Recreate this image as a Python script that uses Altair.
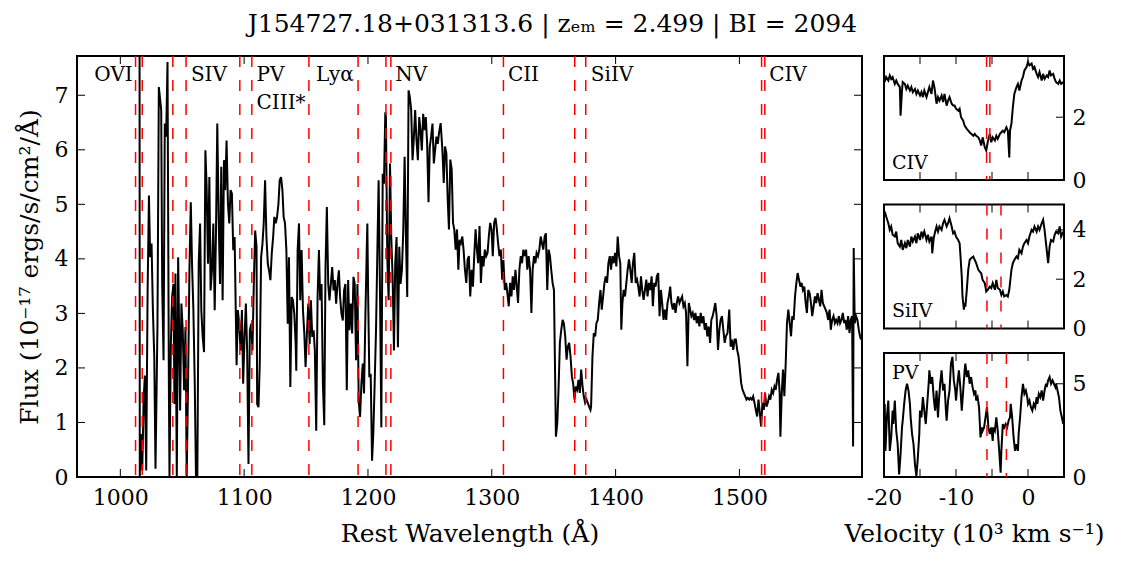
import altair as alt
import pandas as pd

FONT = "DejaVu Serif"

# ---------------- main spectrum (rest wavelength, flux) ----------------
WAVE = [1015.5, 1015.7, 1016.6, 1017.7, 1018.8, 1019.8, 1020.9, 1022.0, 1023.1, 1024.1,
        1025.2, 1026.3, 1027.4, 1028.4, 1030.0, 1031.1, 1032.2, 1033.0, 1033.8, 1034.9,
        1035.9, 1037.0, 1038.1, 1039.2, 1039.7, 1040.8, 1041.8, 1042.9, 1043.7, 1044.5,
        1045.6, 1046.7, 1047.7, 1048.3, 1049.3, 1050.4, 1051.5, 1052.6, 1053.6, 1054.7,
        1055.8, 1056.9, 1057.9, 1059.0, 1060.1, 1061.1, 1062.2, 1063.3, 1064.4, 1065.4,
        1066.5, 1067.6, 1068.1, 1068.7, 1069.7, 1070.8, 1071.9, 1072.9, 1074.0, 1075.1,
        1076.2, 1077.2, 1078.3, 1079.4, 1080.5, 1081.5, 1082.6, 1083.7, 1084.7, 1085.8,
        1086.9, 1088.0, 1089.0, 1090.1, 1091.2, 1092.3, 1093.3, 1093.9, 1094.9, 1096.0,
        1097.1, 1098.2, 1099.2, 1100.3, 1101.4, 1102.4, 1103.5, 1104.6, 1105.7, 1106.7,
        1107.8, 1108.9, 1110.0, 1110.5, 1111.6, 1112.6, 1113.7, 1114.8, 1115.8, 1116.9,
        1118.0, 1119.1, 1120.1, 1121.2, 1122.3, 1123.4, 1124.4, 1125.5, 1126.6, 1127.7,
        1128.7, 1129.8, 1130.9, 1131.9, 1133.0, 1134.1, 1135.2, 1136.2, 1137.3, 1138.4,
        1139.4, 1140.5, 1141.6, 1142.1, 1143.2, 1144.3, 1145.3, 1146.4, 1147.5, 1148.6,
        1149.6, 1150.7, 1151.8, 1152.9, 1153.9, 1155.0, 1156.1, 1157.1, 1158.2, 1159.3,
        1160.4, 1161.4, 1162.5, 1163.6, 1164.7, 1165.7, 1166.8, 1167.9, 1168.9, 1170.0,
        1171.1, 1172.2, 1173.2, 1174.3, 1175.4, 1176.5, 1177.5, 1178.6, 1179.7, 1180.7,
        1181.8, 1182.9, 1184.0, 1185.0, 1186.1, 1187.2, 1188.3, 1189.3, 1190.4, 1191.5,
        1192.5, 1193.6, 1194.7, 1195.8, 1196.8, 1197.9, 1199.0, 1199.5, 1200.1, 1201.1,
        1202.2, 1203.3, 1204.3, 1205.4, 1206.5, 1207.6, 1208.6, 1209.7, 1210.8, 1211.9,
        1212.9, 1214.0, 1214.5, 1215.6, 1216.7, 1217.8, 1218.8, 1219.9, 1221.0, 1222.0,
        1223.1, 1224.2, 1225.3, 1226.3, 1227.4, 1228.5, 1229.6, 1230.6, 1231.7, 1232.8,
        1233.8, 1234.9, 1236.0, 1237.1, 1238.1, 1239.2, 1240.3, 1241.4, 1242.4, 1243.5,
        1244.6, 1245.6, 1246.7, 1247.8, 1248.9, 1249.9, 1251.0, 1252.1, 1253.2, 1254.2,
        1255.3, 1256.4, 1257.4, 1258.7, 1260.1, 1261.2, 1262.2, 1263.3, 1264.4, 1265.4,
        1266.5, 1267.6, 1268.7, 1269.7, 1270.8, 1271.9, 1273.0, 1274.0, 1275.1, 1276.2,
        1277.2, 1278.3, 1279.4, 1280.5, 1281.5, 1282.6, 1283.7, 1284.8, 1285.8, 1286.9,
        1288.0, 1289.0, 1290.1, 1291.2, 1292.3, 1293.3, 1294.4, 1295.5, 1296.6, 1297.6,
        1298.7, 1299.8, 1300.8, 1301.9, 1303.0, 1304.1, 1305.1, 1306.2, 1307.3, 1308.4,
        1309.4, 1310.5, 1311.6, 1312.6, 1313.7, 1314.8, 1315.9, 1316.9, 1318.0, 1319.1,
        1320.2, 1321.2, 1322.3, 1323.4, 1324.4, 1325.5, 1326.6, 1327.7, 1328.7, 1329.8,
        1330.9, 1332.0, 1333.0, 1334.1, 1335.2, 1336.2, 1337.3, 1338.4, 1339.5, 1340.5,
        1341.6, 1342.7, 1343.7, 1344.8, 1345.9, 1347.0, 1348.0, 1349.1, 1350.2, 1351.3,
        1351.8, 1352.9, 1353.9, 1355.0, 1356.1, 1357.2, 1358.2, 1359.3, 1360.4, 1361.4,
        1362.5, 1363.6, 1364.7, 1365.7, 1366.8, 1367.9, 1369.0, 1370.0, 1371.1, 1372.2,
        1373.3, 1374.3, 1375.4, 1376.5, 1377.5, 1378.6, 1379.7, 1380.2, 1381.3, 1382.4,
        1383.5, 1384.5, 1385.6, 1386.7, 1387.8, 1388.8, 1389.9, 1391.0, 1392.0, 1393.1,
        1394.2, 1395.3, 1396.3, 1397.4, 1398.5, 1399.6, 1400.6, 1401.7, 1402.8, 1403.8,
        1404.6, 1405.5, 1406.5, 1407.6, 1408.7, 1409.7, 1410.8, 1411.9, 1413.0, 1414.0,
        1415.1, 1416.2, 1417.3, 1418.3, 1419.4, 1420.5, 1421.5, 1422.6, 1423.7, 1424.8,
        1425.8, 1426.9, 1428.0, 1429.1, 1430.1, 1431.2, 1432.3, 1433.3, 1434.4, 1435.5,
        1436.6, 1437.6, 1438.7, 1439.8, 1440.9, 1441.9, 1443.0, 1444.1, 1445.1, 1446.2,
        1447.3, 1448.4, 1449.4, 1450.5, 1451.6, 1452.6, 1453.7, 1454.8, 1455.9, 1456.9,
        1458.0, 1459.1, 1460.2, 1461.2, 1462.3, 1463.4, 1464.5, 1465.5, 1466.6, 1467.7,
        1468.7, 1469.8, 1470.9, 1472.0, 1473.0, 1474.1, 1475.2, 1476.3, 1477.3, 1478.4,
        1479.5, 1480.5, 1481.6, 1482.7, 1483.8, 1484.8, 1485.9, 1487.0, 1488.1, 1489.1,
        1490.4, 1491.8, 1492.9, 1493.9, 1495.0, 1496.1, 1497.1, 1498.2, 1499.3, 1500.4,
        1501.4, 1502.5, 1503.6, 1504.7, 1505.7, 1506.8, 1507.9, 1508.9, 1510.0, 1511.1,
        1512.2, 1513.2, 1514.3, 1515.4, 1516.5, 1517.5, 1518.6, 1519.7, 1520.7, 1521.8,
        1522.9, 1524.0, 1525.0, 1526.1, 1527.2, 1528.3, 1529.3, 1530.4, 1531.5, 1532.5,
        1533.1, 1534.2, 1535.2, 1536.3, 1537.4, 1538.4, 1539.5, 1540.6, 1541.7, 1542.7,
        1543.8, 1544.9, 1546.0, 1547.0, 1548.1, 1549.2, 1550.2, 1551.3, 1552.4, 1553.5,
        1554.5, 1555.6, 1556.7, 1557.8, 1558.8, 1559.9, 1561.0, 1562.0, 1563.1, 1564.2,
        1565.3, 1566.3, 1567.4, 1568.5, 1569.6, 1570.6, 1571.7, 1572.8, 1573.8, 1574.9,
        1576.0, 1577.1, 1578.1, 1579.2, 1580.3, 1581.3, 1582.4, 1583.5, 1584.6, 1585.6,
        1586.7, 1587.8, 1588.9, 1589.9, 1591.0, 1591.8, 1592.3, 1593.1, 1594.2, 1595.3,
        1596.4, 1597.4, 1598.2]
FLUX = [9.00, 0.00, 0.79, 0.12, 1.40, 1.86, 0.12, 3.36, 5.16, 4.03,
        4.28, 3.06, 2.20, 0.15, 2.81, 7.15, 6.91, 6.73, 3.54, 2.14,
        6.48, 6.24, 7.61, 1.71, 0.00, 2.44, 3.30, 3.54, 1.34, 3.73,
        0.00, 4.03, 2.32, 1.22, 3.18, 2.69, 1.59, 2.75, 0.00, 1.71,
        3.79, 5.04, 3.91, 3.06, 1.71, 0.00, 0.00, 3.91, 4.65, 3.06,
        2.57, 2.29, 4.03, 5.99, 5.32, 3.91, 5.50, 3.42, 3.79, 4.65,
        3.06, 4.40, 6.48, 4.77, 3.54, 5.69, 3.24, 5.81, 5.26, 6.17,
        5.01, 4.65, 5.26, 5.20, 4.16, 4.40, 2.93, 2.05, 3.06, 2.81,
        2.32, 3.06, 1.71, 2.57, 3.18, 2.32, 0.24, 2.69, 2.81, 2.32,
        3.54, 4.52, 4.22, 1.34, 1.28, 2.08, 4.03, 4.28, 4.65, 5.44,
        4.40, 3.91, 3.79, 3.61, 4.10, 4.40, 4.77, 4.65, 4.77, 5.01,
        5.44, 5.50, 5.26, 4.77, 4.65, 4.16, 2.81, 4.03, 1.65, 3.30,
        3.24, 2.99, 2.44, 1.95, 4.16, 4.65, 3.24, 4.16, 3.06, 2.63,
        2.02, 2.63, 3.18, 2.44, 3.24, 2.57, 2.69, 2.32, 0.85, 3.30,
        4.16, 3.24, 3.54, 1.71, 0.95, 3.85, 4.95, 3.54, 3.24, 3.54,
        3.85, 3.42, 3.61, 3.18, 3.54, 3.79, 3.30, 2.99, 2.87, 3.42,
        3.54, 1.59, 3.61, 2.69, 3.18, 2.63, 3.67, 3.54, 2.14, 3.54,
        1.40, 1.10, 1.71, 2.08, 1.53, 2.93, 4.16, 4.65, 3.42, 1.83,
        1.89, 0.30, 0.79, 1.71, 2.69, 4.16, 5.44, 3.42, 0.91, 5.56,
        5.38, 6.69, 6.60, 4.03, 3.24, 5.75, 4.40, 3.67, 2.32, 3.91,
        4.40, 2.38, 4.22, 3.54, 3.79, 4.52, 5.87, 4.46, 3.30, 7.09,
        6.97, 6.73, 5.81, 6.24, 6.73, 6.17, 5.81, 6.60, 6.36, 5.99,
        6.66, 6.36, 6.60, 6.11, 5.04, 6.05, 6.24, 6.48, 5.75, 5.99,
        6.24, 6.11, 6.31, 6.49, 6.00, 5.39, 6.06, 5.94, 5.09, 4.54,
        5.82, 5.64, 4.66, 4.54, 4.17, 4.54, 3.80, 4.35, 4.29, 4.41,
        4.17, 3.80, 3.56, 3.99, 4.05, 3.31, 3.80, 3.49, 4.05, 4.54,
        4.17, 3.92, 4.60, 3.56, 4.05, 3.86, 4.17, 4.05, 4.11, 4.41,
        4.66, 4.54, 4.05, 4.66, 4.75, 4.54, 4.29, 4.05, 4.17, 3.62,
        3.98, 3.43, 3.56, 3.37, 3.13, 3.56, 3.31, 3.68, 3.43, 3.80,
        3.49, 3.19, 3.80, 4.05, 3.92, 4.17, 4.05, 4.17, 3.80, 4.05,
        3.80, 3.01, 3.80, 4.05, 3.92, 4.11, 4.05, 4.17, 4.41, 4.29,
        4.17, 4.41, 4.47, 3.43, 4.17, 4.05, 3.80, 3.56, 3.43, 1.60,
        0.74, 0.99, 1.60, 2.46, 2.70, 2.88, 2.82, 2.58, 2.15, 2.39,
        2.46, 2.21, 1.84, 1.72, 1.42, 1.66, 1.60, 1.78, 1.54, 1.97,
        1.66, 1.48, 1.36, 1.42, 1.36, 1.29, 1.23, 1.29, 2.21, 2.64,
        2.58, 2.82, 2.88, 3.19, 3.43, 3.07, 3.31, 3.56, 3.68, 3.56,
        3.92, 4.05, 3.80, 4.05, 3.92, 4.11, 3.86, 4.41, 4.05, 3.92,
        2.70, 3.19, 3.43, 3.31, 3.56, 3.80, 3.99, 3.80, 3.56, 3.92,
        4.11, 3.56, 3.62, 3.49, 3.31, 3.68, 3.43, 3.25, 3.43, 3.62,
        3.31, 3.56, 3.43, 3.68, 3.13, 3.56, 3.49, 3.68, 3.74, 2.95,
        3.43, 3.19, 2.88, 3.07, 2.88, 3.19, 3.31, 3.49, 3.19, 3.07,
        3.19, 3.01, 3.19, 3.31, 3.19, 3.25, 3.31, 3.13, 3.19, 3.01,
        2.03, 3.19, 3.07, 2.95, 3.01, 2.88, 3.01, 2.82, 2.95, 2.76,
        3.01, 2.82, 2.95, 2.70, 2.82, 2.58, 2.76, 2.46, 2.88, 2.95,
        3.07, 3.19, 2.95, 2.33, 2.70, 2.88, 2.95, 2.70, 2.46, 2.58,
        2.64, 3.07, 2.39, 2.52, 2.33, 2.52, 2.52, 2.33, 2.21, 1.97,
        1.72, 1.60, 1.54, 1.48, 1.42, 1.45, 1.42, 1.45, 1.42, 1.48,
        1.36, 1.23, 1.11, 1.42, 1.17, 0.93, 1.36, 1.23, 1.54, 1.29,
        1.36, 1.48, 1.42, 1.60, 1.54, 1.66, 1.60, 1.78, 1.91, 1.54,
        0.74, 1.54, 1.97, 1.48, 2.09, 2.82, 3.07, 2.82, 2.58, 2.95,
        2.88, 3.31, 3.56, 3.74, 3.62, 3.49, 3.56, 3.43, 3.49, 3.19,
        3.01, 3.43, 3.37, 3.19, 2.95, 3.13, 3.31, 3.19, 3.37, 3.25,
        3.13, 3.43, 3.19, 3.13, 3.07, 3.01, 2.88, 3.07, 2.70, 2.88,
        2.95, 2.82, 2.88, 2.82, 2.95, 2.82, 2.88, 3.01, 2.82, 2.88,
        2.70, 2.95, 2.64, 2.88, 2.95, 0.56, 4.20, 2.82, 2.95, 2.88,
        2.70, 2.58, 2.52]

# absorption-line markers (rest wavelengths at the trough velocity)
LINE_WAVES = [1012.3, 1017.7, 1042.4, 1053.1, 1096.5, 1106.2, 1152.3, 1192.0,
              1214.5, 1218.5, 1309.4, 1367.0, 1375.9, 1517.9, 1520.5]
LABELS = ["OVI", "SIV", "PV", "CIII*", "Lyα", "NV", "CII", "SiIV", "CIV"]
LABEL_WAVES = [979, 1057, 1110, 1110, 1158, 1222, 1313, 1380, 1524]
LABEL_FLUX = [7.55, 7.55, 7.55, 7.05, 7.55, 7.55, 7.55, 7.55, 7.55]
MAIN_XTICKS = [1000, 1100, 1200, 1300, 1400, 1500]
MAIN_YTICKS = [0, 1, 2, 3, 4, 5, 6, 7]

# ---------------- velocity panels ----------------
V_CIV = [-19.9, -19.7, -19.4, -19.2, -19.0, -18.8, -18.5, -18.3, -18.1, -17.8,
         -17.7, -17.5, -17.4, -17.1, -16.9, -16.7, -16.4, -16.2, -16.0, -15.7,
         -15.5, -15.3, -15.0, -14.8, -14.6, -14.4, -14.1, -13.9, -13.7, -13.4,
         -13.2, -13.0, -12.7, -12.5, -12.3, -12.0, -11.8, -11.6, -11.3, -11.1,
         -10.9, -10.6, -10.4, -10.2, -10.0, -9.7, -9.5, -9.3, -9.0, -8.8,
         -8.5, -8.3, -8.1, -7.9, -7.6, -7.4, -7.2, -6.9, -6.7, -6.5,
         -6.3, -6.0, -5.8, -5.6, -5.3, -5.1, -4.9, -4.6, -4.4, -4.2,
         -3.9, -3.7, -3.5, -3.3, -3.0, -2.8, -2.6, -2.5, -2.3, -2.1,
         -1.9, -1.6, -1.4, -1.2, -0.9, -0.7, -0.5, -0.2, 0.0, 0.2,
         0.5, 0.7, 0.9, 1.2, 1.4, 1.6, 1.9, 2.1, 2.3, 2.6,
         2.8, 3.0, 3.2, 3.5, 3.7, 3.9, 4.2, 4.4, 4.6, 4.9]
F_CIV = [3.12, 3.28, 3.17, 3.33, 3.22, 3.28, 3.06, 3.17, 3.06, 2.96,
         2.05, 2.85, 3.12, 3.06, 2.90, 3.01, 2.85, 2.96, 2.80, 2.90,
         2.74, 2.85, 2.69, 2.80, 2.64, 2.85, 2.64, 2.80, 2.96, 2.74,
         3.17, 2.96, 2.43, 2.64, 2.53, 2.69, 2.48, 2.74, 2.37, 2.53,
         2.64, 2.43, 2.37, 2.37, 2.27, 2.21, 2.27, 2.00, 1.89, 1.73,
         1.63, 1.57, 1.52, 1.47, 1.41, 1.47, 1.41, 1.36, 1.26, 1.10,
         1.36, 1.04, 0.94, 1.20, 1.47, 1.20, 1.36, 1.26, 1.41, 1.31,
         1.47, 1.52, 1.57, 1.52, 1.68, 1.57, 0.72, 1.57, 1.79, 2.32,
         2.74, 2.96, 3.06, 2.85, 3.17, 3.28, 3.49, 3.60, 3.76, 3.65,
         3.71, 3.54, 3.60, 3.38, 3.28, 3.44, 3.17, 3.38, 3.22, 3.33,
         3.28, 3.49, 3.33, 3.38, 3.22, 3.12, 3.06, 3.17, 3.06, 3.12]

V_SIIV = [-19.9, -19.7, -19.4, -19.2, -19.0, -18.8, -18.5, -18.3, -18.1, -17.8,
          -17.6, -17.4, -17.1, -16.9, -16.7, -16.4, -16.2, -16.0, -15.7, -15.5,
          -15.3, -15.0, -14.8, -14.6, -14.4, -14.1, -13.9, -13.7, -13.4, -13.3,
          -13.1, -12.9, -12.7, -12.5, -12.3, -12.0, -11.8, -11.6, -11.3, -11.1,
          -10.9, -10.6, -10.4, -10.2, -10.0, -9.7, -9.5, -9.4, -9.2, -9.1,
          -8.9, -8.8, -8.7, -8.5, -8.3, -8.1, -7.9, -7.6, -7.4, -7.2,
          -6.9, -6.7, -6.5, -6.3, -6.0, -5.8, -5.6, -5.3, -5.1, -4.9,
          -4.6, -4.4, -4.2, -3.9, -3.7, -3.5, -3.3, -3.0, -2.8, -2.6,
          -2.3, -2.1, -1.9, -1.6, -1.4, -1.2, -0.9, -0.7, -0.5, -0.2,
          0.0, 0.2, 0.5, 0.7, 0.9, 1.2, 1.4, 1.6, 1.9, 2.1,
          2.3, 2.6, 2.8, 3.0, 3.2, 3.5, 3.7, 3.9, 4.2, 4.4,
          4.6, 4.9]
F_SIIV = [4.74, 4.54, 4.27, 4.00, 4.14, 3.80, 3.73, 3.93, 3.46, 3.32,
          3.59, 3.19, 3.46, 3.26, 3.59, 3.32, 3.73, 3.53, 3.73, 3.46,
          3.86, 3.59, 3.93, 3.73, 3.93, 3.59, 3.80, 3.53, 3.73, 3.05,
          3.66, 3.93, 4.14, 3.93, 4.14, 4.00, 4.27, 4.41, 4.14, 4.27,
          4.47, 4.14, 3.86, 3.93, 3.73, 3.59, 3.46, 3.05, 2.11, 1.30,
          0.76, 1.03, 0.89, 1.57, 2.38, 2.78, 2.85, 2.92, 2.78, 2.65,
          2.38, 2.31, 2.24, 1.97, 1.84, 1.50, 1.57, 1.70, 1.64, 1.84,
          1.57, 1.97, 1.64, 1.57, 1.36, 1.50, 1.30, 1.36, 1.30, 1.57,
          2.38, 2.65, 2.78, 2.92, 2.85, 3.19, 3.05, 3.32, 3.46, 3.59,
          3.46, 3.73, 4.00, 3.93, 4.14, 3.93, 4.14, 4.00, 4.27, 4.41,
          4.00, 3.19, 2.65, 3.32, 3.59, 3.53, 3.80, 3.93, 3.86, 4.14,
          3.73, 3.93]

V_PV = [-19.9, -19.8, -19.6, -19.4, -19.2, -19.0, -18.8, -18.7, -18.5, -18.3,
        -18.1, -17.9, -17.7, -17.5, -17.4, -17.2, -17.0, -16.8, -16.6, -16.4,
        -16.3, -16.1, -15.9, -15.7, -15.5, -15.3, -15.1, -15.0, -14.8, -14.6,
        -14.4, -14.2, -14.0, -13.8, -13.7, -13.5, -13.3, -13.1, -12.9, -12.7,
        -12.5, -12.4, -12.2, -12.0, -11.8, -11.6, -11.4, -11.3, -11.1, -10.9,
        -10.7, -10.5, -10.3, -10.1, -10.0, -9.8, -9.6, -9.4, -9.2, -9.0,
        -8.8, -8.7, -8.5, -8.3, -8.1, -7.9, -7.7, -7.5, -7.3, -7.2,
        -7.0, -6.8, -6.6, -6.4, -6.3, -6.1, -5.9, -5.7, -5.5, -5.3,
        -5.1, -4.9, -4.8, -4.6, -4.4, -4.2, -4.0, -3.8, -3.7, -3.5,
        -3.3, -3.1, -2.9, -2.7, -2.5, -2.4, -2.2, -2.0, -1.8, -1.6,
        -1.4, -1.3, -1.1, -0.9, -0.7, -0.5, -0.3, -0.1, 0.0, 0.2,
        0.4, 0.6, 0.8, 1.0, 1.2, 1.3, 1.5, 1.7, 1.9, 2.1,
        2.3, 2.5, 2.6, 2.8, 3.0, 3.2, 3.4, 3.6, 3.8, 3.9,
        4.1, 4.3, 4.5, 4.7, 4.9]
F_PV = [3.92, 1.40, 3.20, 4.10, 1.40, 2.12, 3.56, 2.84, 4.10, 2.48,
        1.76, 0.14, 1.22, 2.66, 3.02, 3.92, 4.64, 5.00, 4.64, 3.92,
        3.20, 2.30, 1.76, 0.68, 0.05, 1.04, 2.30, 3.56, 3.20, 4.28,
        3.56, 2.84, 3.92, 5.00, 5.72, 5.00, 5.36, 4.28, 3.56, 4.64,
        3.20, 3.92, 5.00, 5.72, 4.64, 5.00, 3.56, 3.02, 4.10, 4.64,
        6.08, 6.44, 5.18, 4.64, 4.10, 5.00, 5.72, 4.82, 3.56, 4.64,
        5.72, 6.08, 5.36, 5.72, 5.00, 5.36, 4.82, 4.46, 4.64, 4.10,
        4.28, 3.74, 2.12, 2.66, 2.48, 2.66, 3.20, 3.74, 2.66, 2.30,
        2.66, 1.94, 2.66, 2.48, 3.20, 2.48, 1.40, 0.23, 1.40, 2.84,
        2.66, 2.84, 2.66, 3.02, 3.20, 3.92, 3.20, 2.12, 1.40, 1.76,
        1.40, 2.30, 3.20, 4.28, 5.00, 4.46, 4.64, 4.28, 3.92, 4.10,
        3.74, 3.56, 3.92, 3.74, 4.28, 3.92, 4.46, 4.28, 4.64, 4.10,
        4.64, 5.00, 4.82, 5.18, 5.36, 5.00, 5.18, 5.00, 4.82, 5.00,
        4.64, 4.28, 3.56, 3.20, 2.84]

CIV_LINES = [-5.75, -5.3]
SIIV_LINES = [-5.7, -3.75]
PV_LINES = [-5.7, -3.0]
VEL_TICKS = [-15, -10, -5, 0]
VEL_LABELS = [-20, -10, 0]

TITLE = "J154727.18+031313.6 | zₑₘ = 2.499 | BI = 2094"

# ---------------- sizes / styles ----------------
MW, MH = 785, 421
SW, SH = 180, 124
TICK = 8
RED = "#ff0000"
DASH = [11, 13]
LABEL_SIZE = 22
AXTITLE_SIZE = 25
TEXT_SIZE = 20
PANEL_TEXT_SIZE = 19
PLAIN = "'' + datum.value"


def inner_ticks(xenc, yenc, xt, yt, w, h, left=True):
    """Inward-pointing ticks on the frame sides, placed through the scales."""
    layers = []
    dx = pd.DataFrame({"t": xt})
    dy = pd.DataFrame({"t": yt})
    for y0, y1 in [(0, TICK), (h, h - TICK)]:
        layers.append(alt.Chart(dx).mark_rule(color="black", strokeWidth=1).encode(
            x=xenc("t"), y=alt.value(y0), y2=alt.value(y1)))
    sides = [(w, w - TICK)]
    if left:
        sides.append((0, TICK))
    for x0, x1 in sides:
        layers.append(alt.Chart(dy).mark_rule(color="black", strokeWidth=1).encode(
            y=yenc("t"), x=alt.value(x0), x2=alt.value(x1)))
    return layers


# ---------------- main panel ----------------
xs = alt.Scale(domain=[965, 1599], nice=False, zero=False)
ys = alt.Scale(domain=[0, 7.72], nice=False, zero=False)
main_xaxis = alt.Axis(values=MAIN_XTICKS, labelExpr=PLAIN, title="Rest Wavelength (Å)",
                      ticks=False, domain=False, grid=False, labelPadding=10,
                      titlePadding=13, labelFlush=False)
main_yaxis = alt.Axis(values=MAIN_YTICKS, labelExpr=PLAIN,
                      title="Flux (10⁻¹⁷ ergs/s/cm²/Å)",
                      ticks=False, domain=False, grid=False, labelPadding=9,
                      titlePadding=12, labelFlush=False)


def mx(field):
    return alt.X(f"{field}:Q", scale=xs, axis=main_xaxis)


def my(field):
    return alt.Y(f"{field}:Q", scale=ys, axis=main_yaxis)


spec = pd.DataFrame({"wave": WAVE, "flux": FLUX})
main_line = alt.Chart(spec).mark_line(color="black", strokeWidth=2, clip=True).encode(
    x=mx("wave"), y=my("flux"))
main_rules = alt.Chart(pd.DataFrame({"w": LINE_WAVES})).mark_rule(
    color=RED, strokeWidth=1.5, strokeDash=DASH).encode(x=mx("w"))
main_text = alt.Chart(pd.DataFrame({"w": LABEL_WAVES, "f": LABEL_FLUX, "lab": LABELS})).mark_text(
    align="left", baseline="top", font=FONT, fontSize=TEXT_SIZE, color="black").encode(
    x=mx("w"), y=my("f"), text="lab:N")

main = alt.layer(main_line, main_rules, main_text,
                 *inner_ticks(mx, my, MAIN_XTICKS, MAIN_YTICKS, MW, MH)
                 ).properties(width=MW, height=MH)


# ---------------- velocity panels ----------------
def panel(v, f, ymax, yvals, lines, label, label_y, bottom):
    vx = alt.Scale(domain=[-20, 5], nice=False, zero=False)
    vy = alt.Scale(domain=[0, ymax], nice=False, zero=False)
    if bottom:
        xaxis = alt.Axis(values=VEL_LABELS, labelExpr=PLAIN,
                         title="Velocity (10³ km s⁻¹)", ticks=False, domain=False,
                         grid=False, labelPadding=10, titlePadding=13, labelFlush=False)
    else:
        xaxis = None
    yaxis = alt.Axis(values=yvals, labelExpr=PLAIN, orient="right", title=None,
                     ticks=False, domain=False, grid=False, labelPadding=8,
                     labelFlush=False)

    def px(field):
        return alt.X(f"{field}:Q", scale=vx, axis=xaxis)

    def py(field):
        return alt.Y(f"{field}:Q", scale=vy, axis=yaxis)

    df = pd.DataFrame({"v": v, "f": f})
    ln = alt.Chart(df).mark_line(color="black", strokeWidth=2, clip=True).encode(
        x=px("v"), y=py("f"))
    rl = alt.Chart(pd.DataFrame({"l": lines})).mark_rule(
        color=RED, strokeWidth=1.5, strokeDash=DASH).encode(x=px("l"))
    tx = alt.Chart(pd.DataFrame({"v": [-18.9], "f": [label_y], "lab": [label]})).mark_text(
        align="left", baseline="alphabetic", font=FONT, fontSize=PANEL_TEXT_SIZE,
        color="black").encode(x=px("v"), y=py("f"), text="lab:N")
    return alt.layer(ln, rl, tx, *inner_ticks(px, py, VEL_TICKS, yvals, SW, SH, left=False)
                     ).properties(width=SW, height=SH)


civ = panel(V_CIV, F_CIV, 3.95, [0, 2], CIV_LINES, "CIV", 0.36, False)
siiv = panel(V_SIIV, F_SIIV, 5.03, [0, 2, 4], SIIV_LINES, "SiIV", 0.48, False)
pv = panel(V_PV, F_PV, 6.65, [0, 5], PV_LINES, "PV", 5.28, True)

right = alt.vconcat(civ, siiv, pv, spacing=24.5, bounds="flush")

chart = alt.hconcat(main, right, spacing=22, bounds="flush").properties(
    title=alt.TitleParams(TITLE, font=FONT, fontSize=25, fontWeight="normal",
                          anchor="middle", offset=17, dx=-8, color="black"),
    padding={"left": 16, "top": 12, "right": 5, "bottom": 5},
    background="white",
).configure_view(
    stroke="black", strokeWidth=2
).configure_axis(
    labelFont=FONT, titleFont=FONT, labelFontSize=LABEL_SIZE, titleFontSize=AXTITLE_SIZE,
    labelColor="black", titleColor="black", titleFontWeight="normal"
)

chart.save("out.html", embed_options={"renderer": "svg", "actions": False})
